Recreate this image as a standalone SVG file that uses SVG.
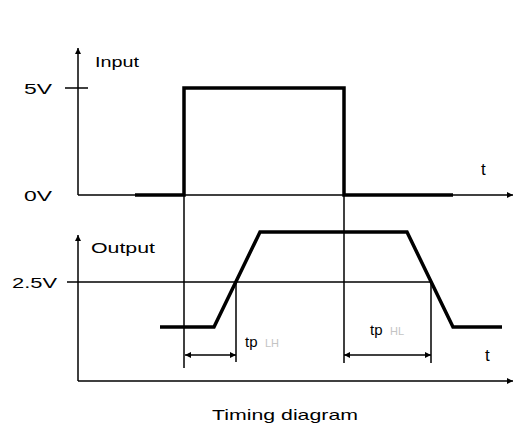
<svg xmlns="http://www.w3.org/2000/svg" width="514" height="436" viewBox="0 0 514 436">
<style>
.thin{stroke:#000;stroke-width:1.5;fill:none}
.thick{stroke:#000;stroke-width:3.5;fill:none;stroke-linejoin:miter}
.lbl{font-family:"Liberation Sans",Arial,sans-serif;font-size:15px;fill:#000}
.big{font-family:"Liberation Sans",Arial,sans-serif;font-size:17px;fill:#000}
.sub{font-family:"Liberation Sans",Arial,sans-serif;font-size:11px;fill:#c4c4c4}
</style>
<defs>
<marker id="ah" viewBox="0 0 10 10" refX="10" refY="5" markerWidth="8" markerHeight="6" markerUnits="userSpaceOnUse" orient="auto-start-reverse">
<path d="M0,0 L10,5 L0,10 z" fill="#000"/>
</marker>
</defs>
<rect width="514" height="436" fill="#fff"/>
<g id="connectors">
<line class="thin" x1="78" y1="195" x2="78" y2="48" marker-end="url(#ah)"/>
<line class="thin" x1="78" y1="195" x2="513" y2="195" marker-end="url(#ah)"/>
<line class="thin" x1="65" y1="88" x2="88" y2="88"/>
<line class="thin" x1="184" y1="195" x2="184" y2="368"/>
<line class="thin" x1="344" y1="195" x2="344" y2="363"/>
<line class="thin" x1="78" y1="381" x2="78" y2="235" marker-end="url(#ah)"/>
<line class="thin" x1="78" y1="381" x2="513" y2="381" marker-end="url(#ah)"/>
<line class="thin" x1="67" y1="282" x2="431" y2="282"/>
<line class="thin" x1="236" y1="282" x2="236" y2="362"/>
<line class="thin" x1="431" y1="282" x2="431" y2="363"/>
<line class="thin" x1="185" y1="355" x2="236" y2="355" marker-start="url(#ah)" marker-end="url(#ah)"/>
<line class="thin" x1="344" y1="355" x2="431" y2="355" marker-start="url(#ah)" marker-end="url(#ah)"/>
</g>
<g id="input-signal">
<polyline class="thick" points="135,195 184,195 184,88 344,88 344,195 453,195"/>
</g>
<g id="output-signal">
<polyline class="thick" points="160,327 214,327 260,232 407,232 453,327 502,327"/>
</g>
<g id="labels">
<text class="lbl" x="95" y="67" textLength="44" lengthAdjust="spacingAndGlyphs">Input</text>
<text class="lbl" x="24" y="94" textLength="28" lengthAdjust="spacingAndGlyphs">5V</text>
<text class="lbl" x="24" y="201" textLength="28" lengthAdjust="spacingAndGlyphs">0V</text>
<text class="big" x="481" y="175">t</text>
<text class="lbl" x="91" y="253" textLength="64" lengthAdjust="spacingAndGlyphs">Output</text>
<text class="lbl" x="12" y="288" textLength="45" lengthAdjust="spacingAndGlyphs">2.5V</text>
<text class="lbl" x="245" y="347" font-size="16">tp</text>
<text class="sub" x="265" y="347">LH</text>
<text class="lbl" x="370" y="335" font-size="16">tp</text>
<text class="sub" x="390" y="335">HL</text>
<text class="big" x="485" y="361">t</text>
<text class="lbl" x="212" y="420" textLength="146" lengthAdjust="spacingAndGlyphs">Timing diagram</text>
</g>
</svg>
